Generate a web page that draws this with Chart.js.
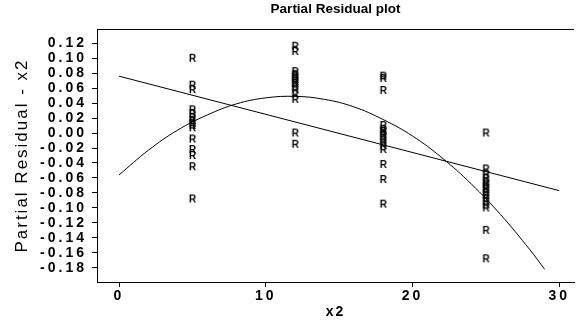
<!DOCTYPE html>
<html>
<head>
<meta charset="utf-8">
<script src="https://cdn.jsdelivr.net/npm/chart.js@4"></script>
<style>
  html, body { margin: 0; padding: 0; background: #fff; }
  #wrap { width: 580px; height: 324px; position: relative; }
</style>
</head>
<body>
<div id="wrap"><canvas id="chart"></canvas></div>
<script>
// partial residuals of x2, one list per observed x2 level
const xLevels = [5, 12, 18, 25];
const res5 = [0.100, 0.064, 0.058, 0.031, 0.026, 0.021, 0.017, 0.013, 0.010, 0.007,
              -0.008, -0.022, -0.030, -0.045, -0.088];
const res12 = [0.116, 0.109, 0.082, 0.078, 0.075, 0.072, 0.069, 0.066, 0.062, 0.058,
               0.052, 0.045, 0.000, -0.015];
const res18 = [0.076, 0.073, 0.057, 0.010, 0.005, 0.002, -0.002, -0.005, -0.009, -0.013,
               -0.017, -0.022, -0.042, -0.062, -0.095];
const res25 = [0.000, -0.048, -0.055, -0.060, -0.065, -0.068, -0.072, -0.075, -0.079,
               -0.083, -0.087, -0.091, -0.096, -0.100, -0.130, -0.168];
const residuals = [res5, res12, res18, res25];

// straight fit
const fitX = [0, 30];
const fitY = [0.076, -0.077];

// quadratic fit
const curveX = [0, 2, 4, 6, 8, 10, 12, 14, 16, 18, 20, 22, 24, 26, 28, 29];
const curveY = [-0.056, -0.023, 0.004, 0.024, 0.039, 0.047, 0.049, 0.045, 0.035, 0.018,
                -0.004, -0.033, -0.068, -0.109, -0.156, -0.182];

const xTicks = [0, 10, 20, 30];
const yTicks = [-0.18, -0.16, -0.14, -0.12, -0.10, -0.08, -0.06, -0.04, -0.02,
                0.00, 0.02, 0.04, 0.06, 0.08, 0.10, 0.12];

const chartTitle = 'Partial Residual plot';
const xTitle = 'x2';
const yTitle = 'Partial Residual - x2';

const INK = '#000';
const SANS = '"Liberation Sans", Arial, sans-serif';

function letterMarker(ch) {
  const c = document.createElement('canvas');
  c.width = 9;
  c.height = 11;
  const g = c.getContext('2d');
  g.fillStyle = INK;
  g.font = 'bold 10px ' + SANS;
  g.textAlign = 'center';
  g.textBaseline = 'middle';
  g.fillText(ch, 4.5, 6);
  return c;
}

const points = [];
xLevels.forEach((x, i) => residuals[i].forEach(y => points.push({ x, y })));

// titles get a little tracking, tick labels more; chart title none
const frame = {
  id: 'frame',
  beforeUpdate(chart) { chart.ctx.letterSpacing = '2px'; },
  beforeDraw(chart) { chart.ctx.letterSpacing = '2px'; },
  afterDatasetsDraw(chart) { chart.ctx.letterSpacing = '3px'; },
  afterDraw(chart) {
    const { ctx, chartArea: a } = chart;
    ctx.save();
    ctx.letterSpacing = '0px';
    ctx.strokeStyle = INK;
    ctx.lineWidth = 1;
    ctx.beginPath();
    ctx.moveTo(a.left, a.top + 0.5);
    ctx.lineTo(a.right, a.top + 0.5);
    ctx.stroke();
    ctx.fillStyle = INK;
    ctx.font = 'bold 13.5px ' + SANS;
    ctx.textAlign = 'center';
    ctx.textBaseline = 'middle';
    ctx.fillText(chartTitle, (a.left + a.right) / 2, 9);
    ctx.restore();
  }
};

const tickFont = { family: SANS, size: 14, weight: 'bold' };

new Chart(document.getElementById('chart'), {
  type: 'scatter',
  data: {
    datasets: [
      {
        data: points,
        pointStyle: letterMarker('R'),
        pointRadius: 5,
        showLine: false
      },
      {
        data: fitX.map((x, i) => ({ x, y: fitY[i] })),
        showLine: true,
        borderColor: INK,
        borderWidth: 1,
        pointRadius: 0
      },
      {
        data: curveX.map((x, i) => ({ x, y: curveY[i] })),
        showLine: true,
        borderColor: INK,
        borderWidth: 1,
        pointRadius: 0,
        tension: 0.4
      }
    ]
  },
  options: {
    responsive: true,
    maintainAspectRatio: false,
    animation: false,
    layout: { padding: { top: 29, right: 3, left: 0, bottom: 0 } },
    plugins: { legend: { display: false }, tooltip: { enabled: false } },
    scales: {
      x: {
        type: 'linear',
        min: -1.5,
        max: 31,
        afterBuildTicks: s => { s.ticks = xTicks.map(v => ({ value: v })); },
        afterFit: s => { s.height = 42; },
        grid: { display: true, drawOnChartArea: false, drawTicks: true, tickLength: 5, color: INK },
        border: { display: true, color: INK, width: 1 },
        ticks: {
          color: INK, font: tickFont, padding: 1, maxRotation: 0, autoSkip: false, z: 1,
          callback: v => String(v)
        },
        title: {
          display: true, text: xTitle, color: INK,
          font: { family: SANS, size: 14, weight: 'bold' },
          padding: { top: 0, bottom: 3 }
        }
      },
      y: {
        type: 'linear',
        min: -0.199,
        max: 0.139,
        afterBuildTicks: s => { s.ticks = yTicks.map(v => ({ value: v })); },
        afterFit: s => { s.width = 97; },
        grid: { display: true, drawOnChartArea: false, drawTicks: true, tickLength: 5, color: INK },
        border: { display: true, color: INK, width: 1 },
        ticks: {
          color: INK, font: tickFont, padding: 5, autoSkip: false, z: 1,
          callback: v => v.toFixed(2)
        },
        title: {
          display: true, text: yTitle, color: INK,
          font: { family: '"Liberation Sans Narrow", ' + SANS, size: 17 },
          padding: { top: 12, bottom: 0 }
        }
      }
    }
  },
  plugins: [frame]
});
</script>
</body>
</html>
